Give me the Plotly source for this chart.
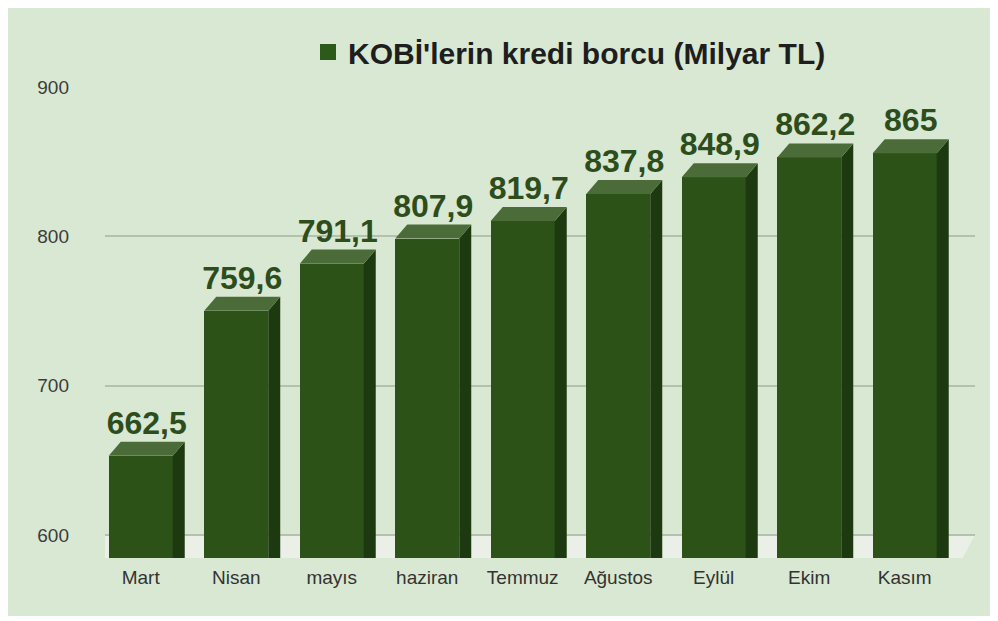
import plotly.graph_objects as go

# ---- data ----
months = ["Mart", "Nisan", "mayıs", "haziran", "Temmuz", "Ağustos", "Eylül", "Ekim", "Kasım"]
values = [662.5, 759.6, 791.1, 807.9, 819.7, 837.8, 848.9, 862.2, 865]
series_name = "KOBİ'lerin kredi borcu (Milyar TL)"
y_ticks = [600, 700, 800, 900]

# ---- style / geometry ----
# page body adds an 8px margin, so the figure is sized/positioned to compensate
W, H = 986, 608
ML, MR, MT, MB = 97, 19, 79, 58
X_RANGE = [-0.5, 8.61]
Y_RANGE = [584.6, 900]
BAR_W = 0.67      # front face width (category units)
DX = 0.126        # depth offset (category units)
DY = 9.4          # depth offset (value units)
FRONT = "#2c5218"
TOP = "#4b6c38"
SIDE = "#1d390f"
BG = "#d9e8d2"
LABEL_C = "#2d4d1d"
FONT = "Liberation Sans, Arial"

labels = [f"{v:g}".replace(".", ",") for v in values]
idx = list(range(len(months)))
xf = [i - DX for i in idx]  # front face centres

fig = go.Figure()

# front faces
fig.add_trace(go.Bar(
    x=xf, y=[v - DY for v in values], width=BAR_W,
    marker=dict(color=FRONT, line=dict(width=0)),
    hoverinfo="skip", showlegend=False))

# side and top faces
for i, v in zip(idx, values):
    xl = xf[i] - BAR_W / 2
    xr = xf[i] + BAR_W / 2
    fig.add_trace(go.Scatter(
        x=[xr, xr + DX, xr + DX, xr, xr],
        y=[v - DY, v, Y_RANGE[0] - 50, Y_RANGE[0] - 50, v - DY],
        fill="toself", fillcolor=SIDE, line=dict(width=0),
        mode="lines", hoverinfo="skip", showlegend=False))
    fig.add_trace(go.Scatter(
        x=[xl, xr, xr + DX, xl + DX, xl],
        y=[v - DY, v - DY, v, v, v - DY],
        fill="toself", fillcolor=TOP, line=dict(width=0),
        mode="lines", hoverinfo="skip", showlegend=False))

# value labels
fig.add_trace(go.Scatter(
    x=[i - DX / 2 for i in idx], y=values, mode="text", text=labels,
    textposition="top center",
    textfont=dict(family=FONT, size=32, color=LABEL_C, weight="bold"),
    hoverinfo="skip", showlegend=False, cliponaxis=False))

# legend entry
fig.add_trace(go.Scatter(
    x=[None], y=[None], mode="markers", name=series_name,
    marker=dict(symbol="square", size=18, color="#2c5a1a"),
    showlegend=True))

floor_left = X_RANGE[0] - 0.21
floor_right = X_RANGE[1] - 0.13
fig.update_layout(
    width=W, height=H,
    margin=dict(l=ML, r=MR, t=MT, b=MB, pad=0),
    paper_bgcolor=BG, plot_bgcolor="rgba(0,0,0,0)",
    showlegend=True,
    legend=dict(
        x=(300 - ML) / (W - ML - MR), xanchor="left",
        y=(H - MB - 44) / (H - MT - MB), yanchor="middle",
        orientation="h", bgcolor="rgba(0,0,0,0)",
        font=dict(family=FONT, size=30, color="#1e1e1e", weight="bold"),
        itemclick=False, itemdoubleclick=False),
    xaxis=dict(
        range=X_RANGE, tickmode="array", tickvals=xf, ticktext=months,
        showgrid=False, zeroline=False, showline=False, ticks="",
        ticklabelstandoff=6,
        tickfont=dict(family=FONT, size=19, color="#333333")),
    yaxis=dict(
        range=Y_RANGE, tickmode="array", tickvals=y_ticks,
        showgrid=True, gridcolor="#b2c2ac", gridwidth=1.5,
        zeroline=False, showline=False, ticks="",
        ticklabelstandoff=35,
        tickfont=dict(family=FONT, size=19, color="#3c3c3c")),
    bargap=0,
    shapes=[dict(
        type="path", xref="x", yref="y", layer="below",
        path=(f"M {X_RANGE[0]} 600 L {X_RANGE[1]} 600 "
              f"L {floor_right} {Y_RANGE[0]} L {floor_left} {Y_RANGE[0]} Z"),
        fillcolor="#eaefe8", line=dict(width=0))],
)

fig.write_html("out.html")
